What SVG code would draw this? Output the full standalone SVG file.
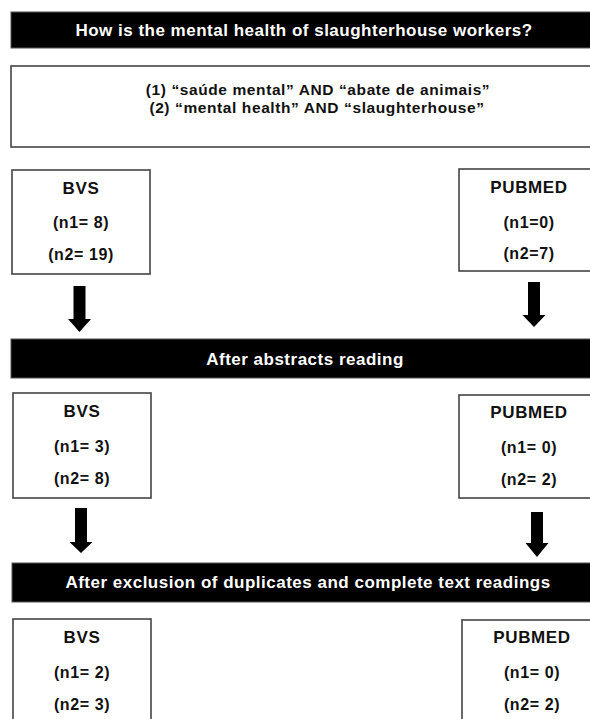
<svg xmlns="http://www.w3.org/2000/svg" width="590" height="719" viewBox="0 0 590 719">
<style>
  .bar { fill: #000; stroke: #555; stroke-width: 1; }
  .box { fill: #fff; stroke: #444; stroke-width: 1.6; }
  .bt { font-family: "Liberation Sans", Arial, sans-serif; font-weight: bold; font-size: 17px; letter-spacing: 0.5px; fill: #fff; text-anchor: middle; }
  .t { font-family: "Liberation Sans", Arial, sans-serif; font-weight: bold; fill: #111; text-anchor: middle; }
  .h { font-size: 17px; letter-spacing: 0.6px; }
  .n { font-size: 16px; letter-spacing: 0.6px; }
  .q { font-size: 15.5px; letter-spacing: 0.6px; }
  .arrow { fill: #000; }
</style>
<rect width="590" height="719" fill="#fff"/>

<g id="header-question">
  <rect class="bar" x="11" y="12" width="590" height="36"/>
  <text class="bt" x="304" y="36">How is the mental health of slaughterhouse workers?</text>
</g>

<g id="search-terms">
  <rect class="box" x="11" y="66" width="590" height="81"/>
  <text class="t q" x="318" y="95">(1) “saúde mental” AND “abate de animais”</text>
  <text class="t q" x="317" y="113">(2) “mental health” AND “slaughterhouse”</text>
</g>

<g id="bvs-1">
  <rect class="box" x="12" y="170" width="138" height="104"/>
  <text class="t h" x="81" y="194">BVS</text>
  <text class="t n" x="81" y="228">(n1= 8)</text>
  <text class="t n" x="81" y="260">(n2= 19)</text>
</g>

<g id="pubmed-1">
  <rect class="box" x="459" y="169" width="140" height="102"/>
  <text class="t h" x="529" y="193">PUBMED</text>
  <text class="t n" x="529" y="228">(n1=0)</text>
  <text class="t n" x="529" y="259">(n2=7)</text>
</g>

<g id="header-abstracts">
  <rect class="bar" x="11" y="339" width="590" height="39"/>
  <text class="bt" x="305" y="365">After abstracts reading</text>
</g>

<g id="bvs-2">
  <rect class="box" x="13" y="393" width="138" height="105"/>
  <text class="t h" x="82" y="417">BVS</text>
  <text class="t n" x="82" y="452">(n1= 3)</text>
  <text class="t n" x="82" y="484">(n2= 8)</text>
</g>

<g id="pubmed-2">
  <rect class="box" x="459" y="395" width="140" height="103"/>
  <text class="t h" x="529" y="418">PUBMED</text>
  <text class="t n" x="529" y="453">(n1= 0)</text>
  <text class="t n" x="529" y="485">(n2= 2)</text>
</g>

<g id="header-exclusion">
  <rect class="bar" x="12" y="563" width="590" height="39"/>
  <text class="bt" x="308" y="588">After exclusion of duplicates and complete text readings</text>
</g>

<g id="bvs-3">
  <rect class="box" x="13" y="619" width="138" height="110"/>
  <text class="t h" x="82" y="643">BVS</text>
  <text class="t n" x="82" y="678">(n1= 2)</text>
  <text class="t n" x="82" y="710">(n2= 3)</text>
</g>

<g id="pubmed-3">
  <rect class="box" x="462" y="620" width="140" height="110"/>
  <text class="t h" x="532" y="643">PUBMED</text>
  <text class="t n" x="532" y="678">(n1= 0)</text>
  <text class="t n" x="532" y="710">(n2= 2)</text>
</g>

<g id="connectors">
  <polygon class="arrow" points="73.5,286 85.5,286 85.5,319 91,319 79.5,332 68,319 73.5,319"/>
  <polygon class="arrow" points="528,282 540,282 540,315 545.5,315 534,327 522.5,315 528,315"/>
  <polygon class="arrow" points="75,508 87,508 87,542 92.5,542 81,553 69.5,542 75,542"/>
  <polygon class="arrow" points="531,512 543,512 543,543 548.5,543 537,557 525.5,543 531,543"/>
</g>
</svg>
